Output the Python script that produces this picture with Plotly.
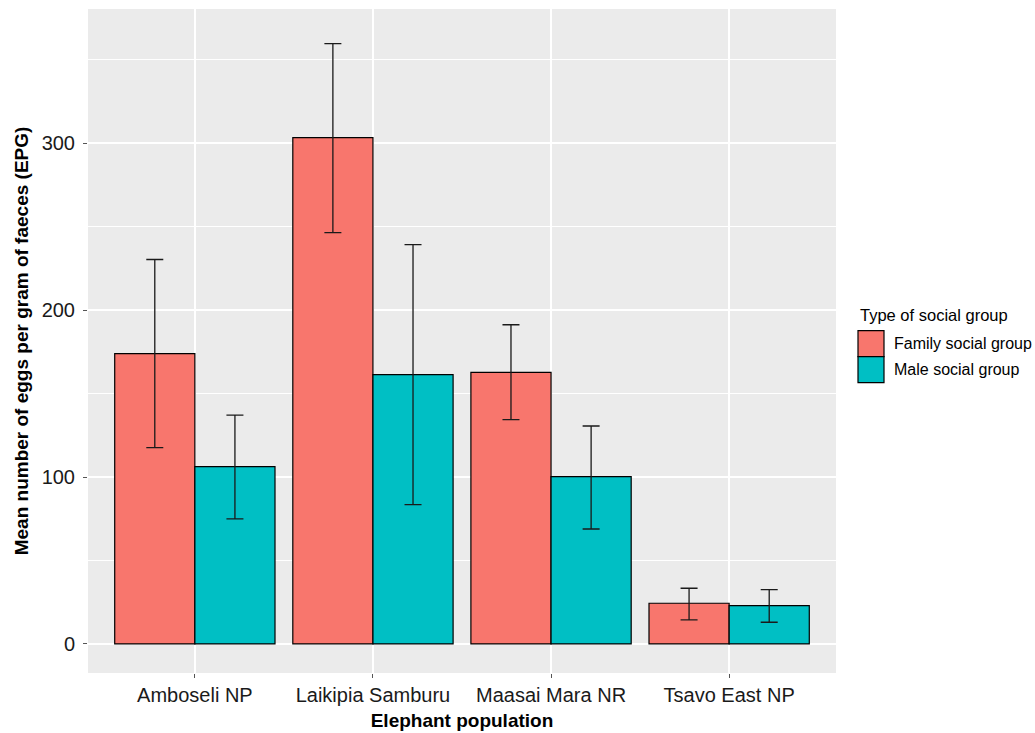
import plotly.graph_objects as go

populations = ["Amboseli NP", "Laikipia Samburu", "Maasai Mara NR", "Tsavo East NP"]
groups = ["Family social group", "Male social group"]
family_mean = [174.0, 303.4, 162.8, 24.4]
family_upper = [230.4, 359.7, 191.3, 33.4]
family_lower = [117.6, 246.5, 134.4, 14.4]
male_mean = [106.3, 161.4, 100.3, 23.0]
male_upper = [137.1, 239.3, 130.6, 32.6]
male_lower = [75.0, 83.5, 68.9, 13.0]
colors = ["#F8766D", "#00BFC4"]
y_ticks = [0, 100, 200, 300]

FONT = "Liberation Sans, Arial, sans-serif"

fig = go.Figure()
series = [(family_mean, family_upper, family_lower), (male_mean, male_upper, male_lower)]
for name, color, (m, up, lo) in zip(groups, colors, series):
    fig.add_trace(go.Bar(
        x=populations, y=m, name=name,
        marker=dict(color=color, line=dict(color="black", width=1.2)),
        error_y=dict(type="data", symmetric=False,
                     array=[u - v for u, v in zip(up, m)],
                     arrayminus=[v - l for v, l in zip(m, lo)],
                     color="#1a1a1a", thickness=1.3, width=8.5),
        showlegend=False,
    ))

fig.update_layout(
    width=1035, height=733,
    margin=dict(l=88, r=199, t=9, b=60, autoexpand=False),
    paper_bgcolor="white", plot_bgcolor="#EBEBEB",
    barmode="group", bargap=0.1, bargroupgap=0,
    font=dict(family=FONT, color="#1a1a1a"),
)
fig.update_xaxes(
    range=[-0.6, 3.6], showgrid=True, gridcolor="white", gridwidth=1.6,
    ticks="outside", ticklen=4, tickcolor="#555555", tickwidth=1,
    tickfont=dict(size=20, color="#1a1a1a", family=FONT),
    title=dict(text="<b>Elephant population</b>", font=dict(size=19, color="black", family=FONT), standoff=8),
    zeroline=False, showline=False, automargin=False,
)
fig.update_yaxes(
    range=[-17.4, 380.5], tickvals=y_ticks,
    showgrid=True, gridcolor="white", gridwidth=1.6,
    minor=dict(dtick=50, tick0=0, showgrid=True, gridcolor="white", gridwidth=0.8, ticks=""),
    ticks="outside", ticklen=4, tickcolor="#555555", tickwidth=1,
    ticklabelstandoff=4,
    tickfont=dict(size=20, color="#1a1a1a", family=FONT),
    title=dict(text="<b>Mean number of eggs per gram of faeces (EPG)</b>", font=dict(size=19, color="black", family=FONT), standoff=7),
    zeroline=False, showline=False, automargin=False,
)

# custom legend (ggplot-style large keys)
fig.add_annotation(xref="paper", yref="paper", x=(858 - 88) / 748, y=(673 - 315) / 664,
                   xanchor="left", yanchor="middle", showarrow=False,
                   text="Type of social group", font=dict(size=16.5, family=FONT, color="black"))
key_top = 330.7
key_h = 26
for i, (name, color) in enumerate(zip(groups, colors)):
    y0 = key_top + i * key_h
    fig.add_shape(type="rect", xref="paper", yref="paper",
                  x0=(858 - 88) / 748, x1=(884 - 88) / 748,
                  y0=(673 - (y0 + key_h)) / 664, y1=(673 - y0) / 664,
                  fillcolor=color, line=dict(color="black", width=1.2))
    fig.add_annotation(xref="paper", yref="paper", x=(892 - 88) / 748, y=(673 - (y0 + key_h / 2)) / 664,
                       xanchor="left", yanchor="middle", showarrow=False,
                       text=name, font=dict(size=16, family=FONT, color="black"))

fig.write_html("out.html")
